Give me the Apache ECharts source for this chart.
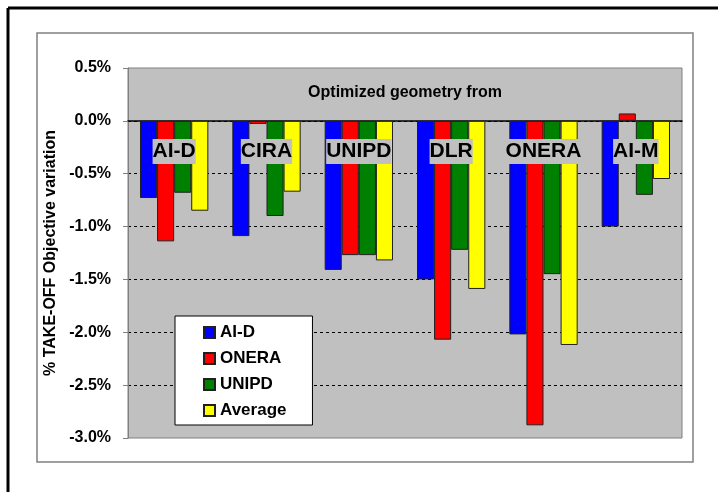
<!DOCTYPE html>
<html>
<head>
<meta charset="utf-8">
<script src="https://cdn.jsdelivr.net/npm/echarts@6/dist/echarts.min.js"></script>
<style>html,body{margin:0;padding:0;background:#fff;}#c{width:718px;height:492px;}</style>
</head>
<body>
<div id="c"></div>
<script>
const categories = ['AI-D', 'CIRA', 'UNIPD', 'DLR', 'ONERA', 'AI-M'];
const seriesNames = ['AI-D', 'ONERA', 'UNIPD', 'Average'];
const aidValues = [-0.73, -1.09, -1.41, -1.50, -2.02, -1.00];
const oneraValues = [-1.14, -0.03, -1.27, -2.07, -2.88, 0.07];
const unipdValues = [-0.68, -0.90, -1.27, -1.22, -1.45, -0.70];
const averageValues = [-0.85, -0.67, -1.32, -1.59, -2.12, -0.55];
const colors = ['#0000ff', '#ff0000', '#008000', '#ffff00'];
const yTicks = { min: -3.0, max: 0.5, interval: 0.5 };
const annotation = 'Optimized geometry from';
const yName = '% TAKE-OFF Objective variation';

const FONT = '"Liberation Sans", Arial, sans-serif';
const valueSets = [aidValues, oneraValues, unipdValues, averageValues];

const chart = echarts.init(document.getElementById('c'), null, { renderer: 'canvas' });
chart.setOption({
  animation: false,
  backgroundColor: '#ffffff',
  color: colors,
  textStyle: { fontFamily: FONT },
  graphic: [
    { type: 'line', shape: { x1: 8, y1: 8, x2: 718, y2: 8 }, style: { stroke: '#000', lineWidth: 3 }, z: 100 },
    { type: 'line', shape: { x1: 8, y1: 8, x2: 8, y2: 492 }, style: { stroke: '#000', lineWidth: 3 }, z: 100 },
    { type: 'rect', shape: { x: 37, y: 33, width: 656, height: 429 }, style: { fill: 'none', stroke: '#808080', lineWidth: 1.5 }, z: -1 },
    { type: 'text', x: 405, y: 93, style: { text: annotation, fontFamily: FONT, fontSize: 16, fontWeight: 'bold', fill: '#000', textAlign: 'center', textVerticalAlign: 'middle' }, z: 100 }
  ],
  grid: {
    left: 128, right: 36, top: 68, bottom: 54,
    show: true, backgroundColor: '#c0c0c0', borderColor: '#808080', borderWidth: 1
  },
  legend: {
    orient: 'vertical',
    left: 175, top: 316,
    width: 143,
    data: seriesNames,
    backgroundColor: '#ffffff',
    borderColor: '#000', borderWidth: 1,
    padding: [8, 26, 6, 28],
    itemWidth: 11, itemHeight: 11, itemGap: 9,
    icon: 'rect',
    textStyle: { fontFamily: FONT, fontSize: 17, fontWeight: 'bold', color: '#000', lineHeight: 15 }
  },
  xAxis: [
    {
      type: 'category',
      data: categories,
      axisLine: { onZero: true, lineStyle: { color: '#000', width: 1.5 } },
      axisTick: { show: false },
      axisLabel: { show: false },
      splitLine: { show: false }
    },
    {
      type: 'category',
      data: categories,
      position: 'top',
      offset: -53,
      z: 10,
      axisLine: { show: false, onZero: false },
      axisTick: { show: false },
      axisLabel: {
        show: true,
        inside: true,
        interval: 0,
        margin: 18,
        fontFamily: FONT, fontSize: 21, fontWeight: 'bold', color: '#000',
        backgroundColor: '#c0c0c0', padding: [2, 0, 2, 0], lineHeight: 21
      },
      splitLine: { show: false }
    }
  ],
  yAxis: {
    type: 'value',
    min: yTicks.min, max: yTicks.max, interval: yTicks.interval,
    name: yName,
    nameLocation: 'middle',
    nameGap: 66,
    nameTextStyle: { fontFamily: FONT, fontSize: 16, fontWeight: 'bold', color: '#000' },
    axisLine: { show: true, onZero: false, lineStyle: { color: '#808080', width: 1 } },
    axisTick: { show: true, inside: false, length: 5, lineStyle: { color: '#808080' } },
    axisLabel: {
      margin: 17,
      fontFamily: FONT, fontSize: 16, fontWeight: 'bold', color: '#000',
      formatter: v => v.toFixed(1) + '%'
    },
    splitLine: { show: true, showMinLine: false, showMaxLine: false, lineStyle: { color: '#000', type: [3, 3], width: 1 } }
  },
  series: seriesNames.map((name, i) => ({
    name: name,
    type: 'bar',
    xAxisIndex: 0,
    data: valueSets[i],
    barGap: '0%',
    barCategoryGap: '26%',
    itemStyle: { color: colors[i], borderColor: '#202020', borderWidth: 1 }
  }))
});
</script>
</body>
</html>
